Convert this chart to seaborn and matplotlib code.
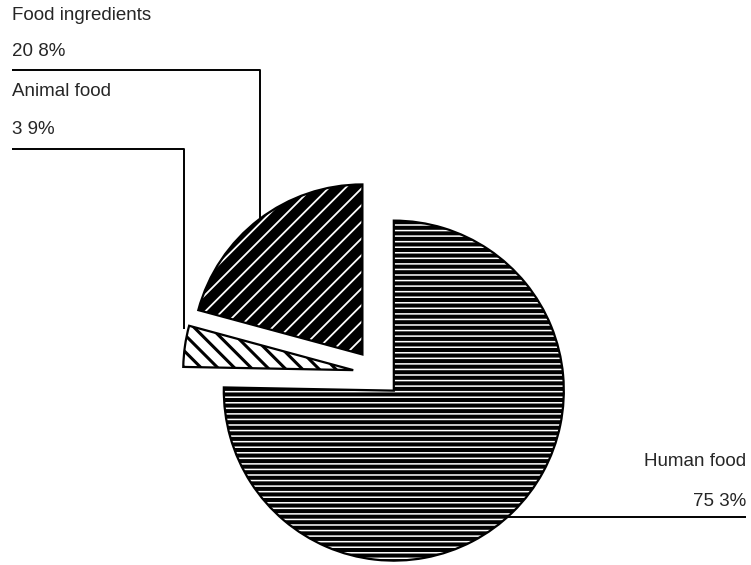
import numpy as np
import matplotlib
matplotlib.use("Agg")
import matplotlib.pyplot as plt
import seaborn as sns

# Uses of the crop (%)
categories = ["Food ingredients", "Animal food", "Human food"]
shares = [20.8, 3.9, 75.3]
share_labels = ["20 8%", "3 9%", "75 3%"]

sns.set_theme(style="white")
plt.rcParams["font.family"] = ["Liberation Sans", "DejaVu Sans"]

W, H = 751, 565
fig = plt.figure(figsize=(W / 100, H / 100), dpi=100)
ax = fig.add_axes([0, 0, 1, 1])

center = (377, 191.5)
radius = 170
# pie offsets are in data units here (1 unit = 1 pixel)
explode = [24, 24, 24]

faces = ["black", "white", "black"]
hatch_colors = ["white", "black", "white"]
hatches = ["//", "\\\\", "---"]
hatch_lw = [1.3, 2.2, 1.1]

wedges, _ = ax.pie(shares, explode=explode, startangle=90, counterclock=True,
                   center=center, radius=radius, frame=True,
                   colors=faces, wedgeprops=dict(linewidth=0))
for w, hc, h, lw in zip(wedges, hatch_colors, hatches, hatch_lw):
    w.set_edgecolor(hc)
    w.set_hatch(h)
    if hasattr(w, "set_hatch_linewidth"):
        w.set_hatch_linewidth(lw)

# outlines on top of the hatched fills
outline, _ = ax.pie(shares, explode=explode, startangle=90, counterclock=True,
                    center=center, radius=radius, frame=True,
                    wedgeprops=dict(fill=False, edgecolor="black", linewidth=1.6))

ax.set_xlim(0, W)
ax.set_ylim(0, H)
ax.set_aspect("equal")
ax.axis("off")

fs = 13.5
lc = dict(color="black", linewidth=1.4, solid_capstyle="butt")

# Food ingredients: label top-left, leader drops onto the arc
fi = wedges[0]
fx = 260
cx, cy = fi.center
fy_end = cy + np.sqrt(fi.r ** 2 - (fx - cx) ** 2)
ax.text(12, 550, categories[0], fontsize=fs, va="center", ha="left")
ax.text(12, 513, share_labels[0], fontsize=fs, va="center", ha="left")
ax.plot([12, fx, fx], [495, 495, fy_end], **lc)

# Animal food: leader drops to the wedge's outer corner
af = wedges[1]
ax_c, ay_c = af.center
t1 = np.deg2rad(af.theta1)
corner = (ax_c + af.r * np.cos(t1), ay_c + af.r * np.sin(t1))
ax.text(12, 473, categories[1], fontsize=fs, va="center", ha="left")
ax.text(12, 435, share_labels[1], fontsize=fs, va="center", ha="left")
ax.plot([12, corner[0] - 5, corner[0] - 5], [416, 416, corner[1] - 3], **lc)

# Human food: label bottom-right, leader runs from the arc
hf = wedges[2]
hx, hy = hf.center
ly = 48
lx_start = hx + np.sqrt(hf.r ** 2 - (ly - hy) ** 2)
ax.text(746, 103, categories[2], fontsize=fs, va="center", ha="right")
ax.text(746, 63, share_labels[2], fontsize=fs, va="center", ha="right")
ax.plot([lx_start, 746], [ly, ly], **lc)

fig.savefig("out.png", dpi=100, facecolor="white")
